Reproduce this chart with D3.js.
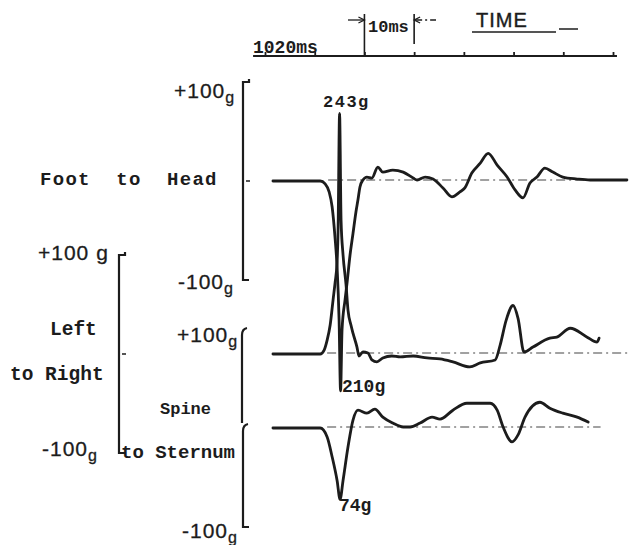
<!DOCTYPE html>
<html>
<head>
<meta charset="utf-8">
<script src="https://cdn.jsdelivr.net/npm/d3@7"></script>
<style>
  body { margin: 0; background: #fff; }
  text { fill: #1c1c1c; }
</style>
</head>
<body>
<script>
// time ticks (ms)
var timeTicks = [1020, 1030, 1040, 1050, 1060, 1070, 1080, 1090];

// Foot to Head trace (ms, g)
var ftT = [1021.6, 1031.1, 1032.1, 1032.9, 1033.5, 1034.1, 1034.5, 1034.9, 1035.2, 1035.5, 1036.1, 1036.5, 1037.1, 1037.7, 1038.3, 1038.7, 1039.1, 1039.7, 1040.5, 1041.5, 1042.7, 1043.7, 1045.7, 1047.8, 1049.8, 1050.6, 1052.2, 1053.8, 1055.8, 1057.6, 1059.2, 1060.2, 1061.6, 1063.3, 1064.9, 1066.7, 1068.7, 1070.3, 1071.9, 1073.3, 1074.7, 1076.3, 1077.9, 1079.9, 1082.8, 1085.4, 1092.8];
var ftG = [0, 0, -3, -11, -26, -58, -87, -140, -212, -150, -120, -103, -75, -53, -31, -19, -6, 1, 4, 3, 14, 9, 11, 9, 3, 1, 4, 2, -7, -16, -11, -7, 8, 18, 28, 16, 4, -9, -17, -2, 4, 13, 9, 4, 2, 1, 1];

// Left to Right trace (ms, g)
var lrT = [1021.6, 1031.1, 1031.9, 1032.5, 1033.1, 1033.7, 1034.1, 1034.5, 1034.7, 1035.0, 1035.3, 1035.7, 1036.3, 1036.7, 1037.3, 1037.7, 1038.5, 1038.9, 1039.7, 1040.7, 1041.5, 1042.5, 1043.7, 1045.5, 1047.2, 1049.8, 1052.6, 1055.2, 1057.8, 1061.2, 1063.3, 1066.3, 1067.3, 1068.5, 1069.9, 1070.9, 1072.1, 1073.9, 1077.3, 1078.7, 1081.4, 1084.8, 1086.8, 1087.2];
var lrG = [0, 0, 4, 14, 29, 55, 72, 93, 125, 243, 135, 100, 70, 44, 29, 21, 7, -2, 2, 1, -6, -8, -4, -2, -3, -2, -4, -5, -8, -13, -9, -6, 9, 34, 49, 36, 2, 7, 16, 17, 26, 17, 12, 16];

// Spine to Sternum trace (ms, g)
var ssT = [1021.6, 1031.1, 1032.5, 1033.5, 1034.5, 1035.1, 1035.7, 1036.7, 1037.7, 1038.7, 1040.5, 1042.1, 1043.7, 1045.7, 1047.8, 1049.2, 1051.2, 1053.6, 1055.2, 1057.8, 1060.6, 1065.3, 1066.7, 1067.9, 1069.7, 1070.9, 1072.3, 1075.3, 1077.3, 1079.9, 1082.8, 1085.0];
var ssG = [0, 0, -9, -29, -53, -72, -53, -19, 8, 18, 15, 19, 11, 5, 1, 1, 5, 11, 9, 18, 25, 25, 18, 1, -14, -7, 11, 26, 20, 15, 11, 6];

var rangeLabels = ["+100", "-100"];
var peakLabels = ["243g", "210g", "74g"];

function main() {
  var w = 629, h = 545;
  var ink = "#1c1c1c";
  var mono = "'Liberation Mono', 'DejaVu Sans Mono', monospace";
  var sans = "'Liberation Sans', Arial, sans-serif";

  var svg = d3.select("body").append("svg")
    .attr("width", w)
    .attr("height", h);

  var x = d3.scaleLinear().domain([1020, 1090]).range([265, 613]);

  // one y scale per channel, +-100g is about 99px
  function yScale(base) {
    return d3.scaleLinear().domain([-100, 100]).range([base + 99, base - 99]);
  }
  var yFt = yScale(181), yLr = yScale(354), ySs = yScale(428);

  // ---- time axis at the top
  var axisY = 56;
  svg.append("line")
    .attr("x1", x(1017.6)).attr("x2", x(1090.8))
    .attr("y1", axisY).attr("y2", axisY)
    .attr("stroke", ink).attr("stroke-width", 1.8);

  var ax = svg.append("g")
    .attr("transform", "translate(0," + axisY + ")")
    .call(d3.axisTop(x).tickValues(timeTicks).tickSize(4).tickFormat(""));
  ax.select(".domain").remove();
  ax.selectAll(".tick line").attr("stroke", ink).attr("stroke-width", 1.8);

  // 10ms marker
  svg.append("line").attr("x1", x(1040)).attr("x2", x(1040)).attr("y1", 14).attr("y2", axisY)
    .attr("stroke", ink).attr("stroke-width", 1.6);
  svg.append("line").attr("x1", x(1050)).attr("x2", x(1050)).attr("y1", 14).attr("y2", 44)
    .attr("stroke", ink).attr("stroke-width", 1.6);
  svg.append("line").attr("x1", 348).attr("x2", x(1040)).attr("y1", 20).attr("y2", 20)
    .attr("stroke", ink).attr("stroke-width", 1.3);
  svg.append("path").attr("d", "M" + (x(1040) - 6) + ",17 L" + x(1040) + ",20 L" + (x(1040) - 6) + ",23")
    .attr("fill", "none").attr("stroke", ink).attr("stroke-width", 1.3);
  svg.append("line").attr("x1", x(1050)).attr("x2", 436).attr("y1", 20).attr("y2", 20)
    .attr("stroke", ink).attr("stroke-width", 1.3).attr("stroke-dasharray", "8,3,2,3");
  svg.append("path").attr("d", "M" + (x(1050) + 6) + ",17 L" + x(1050) + ",20 L" + (x(1050) + 6) + ",23")
    .attr("fill", "none").attr("stroke", ink).attr("stroke-width", 1.3);

  svg.append("text").attr("x", 368).attr("y", 32)
    .style("font-family", mono).style("font-size", "17px").style("font-weight", "bold")
    .text("10ms");
  svg.append("text").attr("x", 253).attr("y", 53)
    .style("font-family", mono).style("font-size", "18px").style("font-weight", "bold")
    .text("1020ms");
  svg.append("text").attr("x", 476).attr("y", 27)
    .style("font-family", sans).style("font-size", "20px").style("letter-spacing", "1px")
    .style("stroke", ink).style("stroke-width", "0.4px")
    .text("TIME");
  svg.append("line").attr("x1", 472).attr("x2", 556).attr("y1", 32).attr("y2", 32)
    .attr("stroke", ink).attr("stroke-width", 1.5);
  svg.append("line").attr("x1", 559).attr("x2", 578).attr("y1", 29).attr("y2", 29)
    .attr("stroke", ink).attr("stroke-width", 1.5);

  // ---- dash-dot zero lines
  var zeroLines = [
    { y: yFt, from: 1032.7, to: 1092.8 },
    { y: yLr, from: 1032.5, to: 1093.2 },
    { y: ySs, from: 1032.5, to: 1087.5 }
  ];
  zeroLines.forEach(function (z) {
    svg.append("line")
      .attr("x1", x(z.from)).attr("x2", x(z.to))
      .attr("y1", z.y(0) - 1).attr("y2", z.y(0) - 1)
      .attr("stroke", "#444").attr("stroke-width", 1.2)
      .attr("stroke-dasharray", "9,4,2,4");
  });

  // ---- scale brackets
  function bracket(bx, y) {
    var top = y(100), bot = y(-100);
    svg.append("path")
      .attr("d", "M" + (bx + 6) + "," + (top - 3) + " L" + (bx + 6) + "," + top + " L" + bx + "," + top + " L" + bx + "," + bot + " L" + (bx + 6) + "," + bot)
      .attr("fill", "none").attr("stroke", ink).attr("stroke-width", 2.2);
    svg.append("line")
      .attr("x1", bx + 3).attr("x2", bx + 7).attr("y1", y(0)).attr("y2", y(0))
      .attr("stroke", ink).attr("stroke-width", 1.5);
  }
  bracket(243, yFt);
  bracket(119, yLr);
  // spine to sternum bracket is drawn in two halves
  svg.append("path")
    .attr("d", "M247," + (ySs(100) - 1) + " Q242," + ySs(100) + " 242," + (ySs(100) + 6) + " L242," + (ySs(0) - 5))
    .attr("fill", "none").attr("stroke", ink).attr("stroke-width", 2.2);
  svg.append("path")
    .attr("d", "M248," + (ySs(0) - 4) + " Q243," + (ySs(0) - 3) + " 243," + (ySs(0) + 3) + " L243," + ySs(-100) + " L249," + ySs(-100))
    .attr("fill", "none").attr("stroke", ink).attr("stroke-width", 2.2);

  // ---- traces
  var traces = [
    { t: ftT, g: ftG, y: yFt },
    { t: lrT, g: lrG, y: yLr },
    { t: ssT, g: ssG, y: ySs }
  ];
  traces.forEach(function (tr) {
    var line = d3.line()
      .curve(d3.curveMonotoneX)
      .x(function (d, i) { return x(tr.t[i]); })
      .y(function (d) { return tr.y(d); });
    svg.append("path")
      .datum(tr.g)
      .attr("d", line)
      .attr("fill", "none")
      .attr("stroke", ink)
      .attr("stroke-width", 2.8)
      .attr("stroke-linejoin", "round")
      .attr("stroke-linecap", "round");
  });

  // ---- range labels
  function rangeLabel(xp, yp, txt, sub) {
    var t = svg.append("text").attr("x", xp).attr("y", yp)
      .style("font-family", sans).style("font-size", "21px").style("letter-spacing", "1px")
      .style("stroke", ink).style("stroke-width", "0.3px")
      .text(txt);
    if (sub) {
      t.append("tspan").attr("dy", 5).style("font-size", "16px").text("g");
    }
    return t;
  }
  rangeLabel(174, 98, rangeLabels[0], true);
  rangeLabel(178, 289, rangeLabels[1], true);
  rangeLabel(38, 260, rangeLabels[0] + " g", false);
  rangeLabel(42, 456, rangeLabels[1], true);
  rangeLabel(177, 342, rangeLabels[0], true);
  rangeLabel(182, 538, rangeLabels[1], true);

  // ---- channel names
  function name(xp, yp, txt, size, sp) {
    svg.append("text").attr("x", xp).attr("y", yp)
      .style("font-family", mono).style("font-size", size + "px").style("font-weight", "bold")
      .style("letter-spacing", (sp || 0) + "px")
      .style("white-space", "pre")
      .text(txt);
  }
  name(40, 185, "Foot  to  Head", 19, 1.3);
  name(50, 335, "Left", 19.5);
  name(10, 380, "to Right", 19.5);
  name(160, 414, "Spine", 17);
  name(121, 458, "to Sternum", 19);

  // ---- peak labels
  svg.append("text").attr("x", 323).attr("y", 107)
    .style("font-family", mono).style("font-size", "17px").style("font-weight", "bold")
    .style("letter-spacing", "1.5px")
    .text(peakLabels[0]);
  svg.append("text").attr("x", 342).attr("y", 392)
    .style("font-family", mono).style("font-size", "18px").style("font-weight", "bold")
    .text(peakLabels[1]);
  svg.append("text").attr("x", 339).attr("y", 511)
    .style("font-family", mono).style("font-size", "18px").style("font-weight", "bold")
    .text(peakLabels[2]);
}

window.onload = function () {
  main();
};
</script>
</body>
</html>
